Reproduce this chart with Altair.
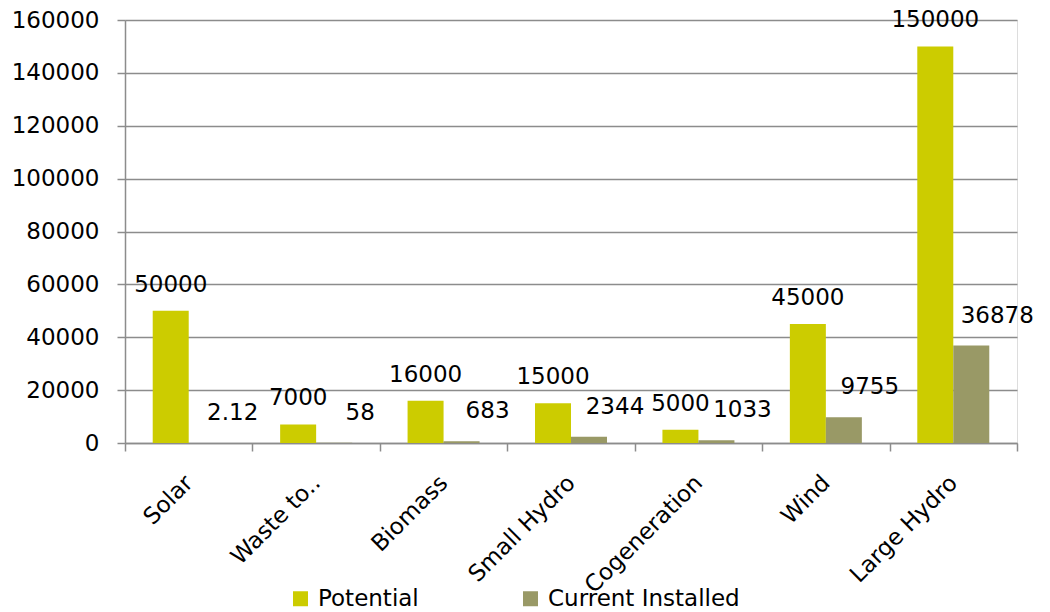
import altair as alt
import pandas as pd

categories = ["Solar", "Waste to..", "Biomass", "Small Hydro", "Cogeneration", "Wind", "Large Hydro"]
potential = [50000, 7000, 16000, 15000, 5000, 45000, 150000]
current_installed = [2.12, 58, 683, 2344, 1033, 9755, 36878]
current_labels = ["2.12", "58", "683", "2344", "1033", "9755", "36878"]
potential_labels = ["50000", "7000", "16000", "15000", "5000", "45000", "150000"]
series = ["Potential", "Current Installed"]
colors = ["#CCCC00", "#999966"]

rows = []
for i, c in enumerate(categories):
    rows.append({"category": c, "series": series[0], "value": potential[i], "label": potential_labels[i]})
    rows.append({"category": c, "series": series[1], "value": current_installed[i], "label": current_labels[i]})
df = pd.DataFrame(rows)

FONT = "DejaVu Sans"
FS = 23
W, H = 892, 423
GRID = "#8c8c8c"

x_enc = alt.X(
    "category:N",
    sort=categories,
    scale=alt.Scale(paddingInner=0, paddingOuter=0),
    axis=alt.Axis(
        title=None,
        labelAngle=-45,
        labelAlign="right",
        labelBaseline="middle",
        labelPadding=28,
        tickBand="extent",
        tickSize=8,
        tickColor=GRID,
        tickWidth=1.5,
        domainColor=GRID,
        domainWidth=1.5,
        grid=False,
        labelFont=FONT,
        labelFontSize=FS,
        labelColor="#000000",
        labelLimit=400,
    ),
)
xoff = alt.XOffset(
    "series:N",
    sort=series,
    scale=alt.Scale(domain=series, paddingInner=0, paddingOuter=0.77),
)
y_enc = alt.Y(
    "value:Q",
    scale=alt.Scale(domain=[0, 160000], nice=False),
    axis=alt.Axis(
        title=None,
        values=list(range(0, 160001, 20000)),
        format="d",
        tickSize=8,
        tickColor=GRID,
        tickWidth=1.5,
        domainColor=GRID,
        domainWidth=1.5,
        gridColor=GRID,
        gridWidth=1.5,
        labelPadding=18,
        labelFont=FONT,
        labelFontSize=FS,
        labelColor="#000000",
    ),
)
color_enc = alt.Color(
    "series:N",
    sort=series,
    scale=alt.Scale(domain=series, range=colors),
    legend=alt.Legend(
        title=None,
        orient="none",
        direction="horizontal",
        legendX=164,
        legendY=567,
        symbolType="square",
        symbolSize=225,
        symbolStrokeWidth=0,
        labelFont=FONT,
        labelFontSize=FS,
        labelColor="#000000",
        labelOffset=6,
        labelLimit=400,
        columnPadding=100,
    ),
)

base = alt.Chart(df)

bars = base.mark_bar(width=36).encode(x=x_enc, xOffset=xoff, y=y_enc, color=color_enc)

pot_text = base.transform_filter(alt.datum.series == "Potential").mark_text(
    font=FONT, fontSize=FS, color="#000000", baseline="middle", align="center", dy=-26
).encode(x=alt.X("category:N", sort=categories), xOffset=xoff, y="value:Q", text="label:N")

cur_text = base.transform_filter(alt.datum.series == "Current Installed").mark_text(
    font=FONT, fontSize=FS, color="#000000", baseline="middle", align="center", dx=26, dy=-30
).encode(x=alt.X("category:N", sort=categories), xOffset=xoff, y="value:Q", text="label:N")

end_tick = alt.Chart(df).mark_rule(color=GRID, strokeWidth=1.5).encode(
    x=alt.value(W), y=alt.value(H), y2=alt.value(H + 8)
)

chart = (
    alt.layer(bars, pot_text, cur_text)
    .properties(
        width=W,
        height=H,
        autosize=alt.AutoSizeParams(type="none"),
        padding={"left": 125, "top": 20, "right": 33, "bottom": 169},
    )
    .configure_view(stroke=None)
    .configure(background="#ffffff")
)

chart.save("out.html", embed_options={"renderer": "svg", "actions": False})
